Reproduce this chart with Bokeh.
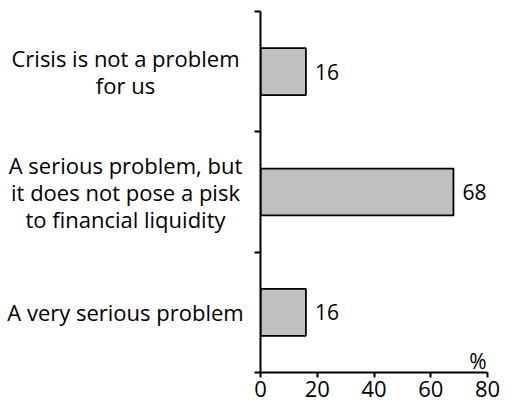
from bokeh.plotting import figure
from bokeh.layouts import row
from bokeh.models import Range1d, FixedTicker, Label, ColumnDataSource
from bokeh.core.properties import value
from bokeh.embed import file_html
from bokeh.resources import INLINE

# data (top to bottom)
categories = [
    "Crisis is not a problem\nfor us",
    "A serious problem, but\nit does not pose a pisk\nto financial liquidity",
    "A very serious problem",
]
values = [16, 68, 16]
x_ticks = [0, 20, 40, 60, 80]
unit_label = "%"

FONT = "Open Sans"
H = 402
TOP, BOTTOM = 11, 30
n = len(categories)
ypos = [n - i - 0.5 for i in range(n)]
yr = Range1d(0, n)

src = ColumnDataSource(dict(y=ypos, v=values, t=[str(v) for v in values]))
csrc = ColumnDataSource(dict(y=ypos, c=categories, x=[0.5] * n))

# ---- left panel: category labels, centred ----
lp = figure(width=250, height=H, output_backend="svg", toolbar_location=None,
            x_range=Range1d(0, 1), y_range=yr, x_axis_type=None, y_axis_type=None,
            min_border_left=0, min_border_right=0, min_border_top=TOP, min_border_bottom=BOTTOM)
lp.outline_line_color = None
lp.grid.visible = False
lp.text(x="x", y="y", text="c", source=csrc, text_align="center", text_baseline="middle",
        text_font=value(FONT), text_font_size="22px", text_line_height=0.9, text_color="black")

# ---- main panel: bars ----
p = figure(width=250, height=H, output_backend="svg", toolbar_location=None,
           x_range=Range1d(0, 80), y_range=yr,
           min_border_left=10, min_border_right=13, min_border_top=TOP, min_border_bottom=BOTTOM)
p.outline_line_color = None
p.xgrid.visible = False
p.ygrid.visible = False

p.hbar(y="y", right="v", left=0, height=0.39, source=src,
       fill_color="#c0c0c0", line_color="black", line_width=1.8)
p.text(x="v", y="y", text="t", source=src, x_offset=9,
       text_align="left", text_baseline="alphabetic",
       text_font=value(FONT), text_font_size="21px", text_color="black")

xa = p.xaxis[0]
xa.ticker = FixedTicker(ticks=x_ticks)
xa.axis_line_width = 2
xa.major_tick_line_width = 2
xa.major_tick_out = 5
xa.major_tick_in = 0
xa.minor_tick_line_color = None
xa.major_label_standoff = 3
xa.major_label_text_font = FONT
xa.major_label_text_font_size = "22px"
xa.major_label_text_color = "black"

ya = p.yaxis[0]
ya.ticker = FixedTicker(ticks=[], minor_ticks=list(range(n + 1)))
ya.axis_line_width = 2
ya.major_tick_line_color = None
ya.minor_tick_line_width = 2
ya.minor_tick_out = 6
ya.minor_tick_in = 0

p.add_layout(Label(x=80, y=0, text=unit_label, x_offset=-1, y_offset=12,
                   text_align="right", text_baseline="alphabetic",
                   text_font=FONT, text_font_size="21px", text_color="black"))

layout = row(lp, p)
open("out.html", "w").write(file_html(layout, INLINE))
